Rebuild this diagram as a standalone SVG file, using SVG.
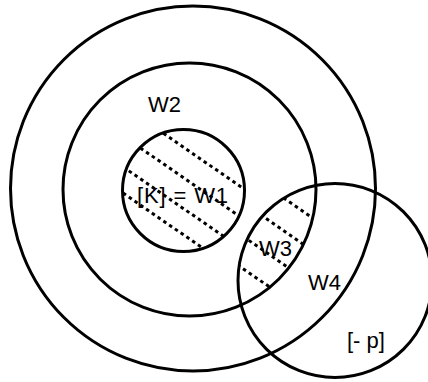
<svg xmlns="http://www.w3.org/2000/svg" width="428" height="382" viewBox="0 0 428 382">
  <style>
    .ring { fill: none; stroke: #000; stroke-width: 3; }
    .hatch { fill: none; stroke: #000; stroke-width: 3; stroke-dasharray: 3.5 3.5; }
    .label { font-family: "Liberation Sans", Arial, sans-serif; font-size: 22px; fill: #000; }
  </style>
  <defs>
    <clipPath id="clip-w1">
      <circle cx="183.5" cy="190.5" r="62"/>
    </clipPath>
    <clipPath id="clip-w2">
      <circle cx="189.5" cy="189.5" r="127"/>
    </clipPath>
    <clipPath id="clip-w4">
      <circle cx="335" cy="280.5" r="97.5"/>
    </clipPath>
  </defs>

  <rect width="428" height="382" fill="#fff"/>

  <!-- hatching of W1 -->
  <g id="hatch-w1" clip-path="url(#clip-w1)">
    <line class="hatch" x1="100" y1="89.6" x2="270" y2="206.9"/>
    <line class="hatch" x1="100" y1="120.1" x2="270" y2="237.4"/>
    <line class="hatch" x1="100" y1="151" x2="270" y2="268.3"/>
    <line class="hatch" x1="100" y1="177.2" x2="270" y2="294.5"/>
  </g>

  <!-- hatching of W3 (overlap of W2 and W4) -->
  <g id="hatch-w3" clip-path="url(#clip-w2)">
    <g clip-path="url(#clip-w4)">
      <line class="hatch" x1="220" y1="154.1" x2="340" y2="236.9"/>
      <line class="hatch" x1="220" y1="186.8" x2="340" y2="269.6"/>
      <line class="hatch" x1="220" y1="220.5" x2="340" y2="303.3"/>
      <line class="hatch" x1="220" y1="252.8" x2="340" y2="335.6"/>
    </g>
  </g>

  <g id="outer">
    <circle class="ring" cx="193" cy="188.5" r="182.5"/>
  </g>
  <g id="w2">
    <circle class="ring" cx="189.5" cy="189.5" r="126.5"/>
    <text class="label" x="148" y="112">W2</text>
  </g>
  <g id="w1">
    <circle class="ring" cx="183.5" cy="190.5" r="61"/>
    <text class="label" x="137" y="203" textLength="91" lengthAdjust="spacing">[K] = W1</text>
  </g>
  <g id="w4">
    <circle class="ring" cx="335" cy="280.5" r="97"/>
    <text class="label" x="308" y="290">W4</text>
    <text class="label" x="347" y="348">[- p]</text>
  </g>
  <g id="w3">
    <text class="label" x="259" y="256">W3</text>
  </g>
</svg>
